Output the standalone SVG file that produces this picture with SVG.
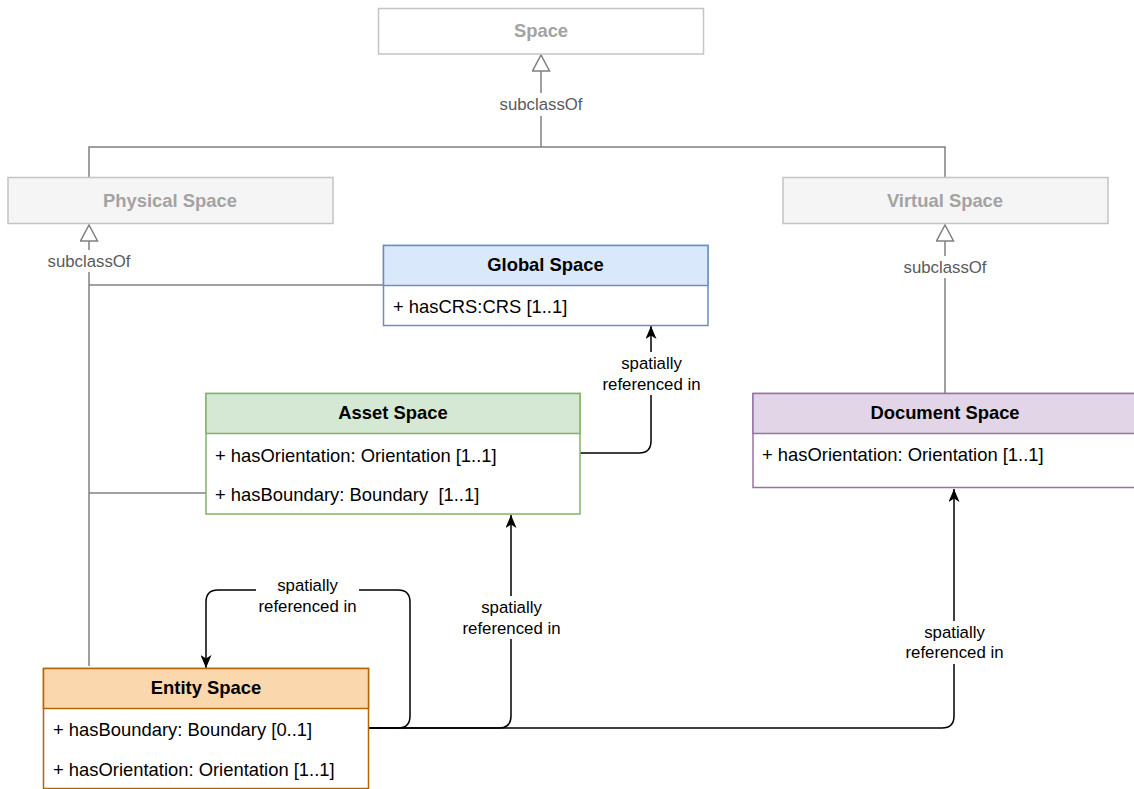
<svg xmlns="http://www.w3.org/2000/svg" width="1134" height="789" viewBox="0 0 1134 789">
<style>
text{font-family:"Liberation Sans",Arial,sans-serif}
.t{font-size:18.4px;font-weight:bold;text-anchor:middle;fill:#000}
.ta{font-size:18.4px;font-weight:bold;text-anchor:middle;fill:#a3a3a3}
.r{font-size:18.4px;fill:#000}
.l{font-size:16.8px;text-anchor:middle;fill:#000}
.lg{font-size:16.8px;text-anchor:middle;fill:#5a5a5a}
.g{fill:none;stroke:#808080;stroke-width:1.5}
.k{fill:none;stroke:#000;stroke-width:1.5}
.bg{fill:#fff}
</style>
<defs>
<marker id="tri" markerUnits="userSpaceOnUse" viewBox="0 0 18 19" refX="17" refY="9.5" markerWidth="18" markerHeight="19" orient="auto">
<path d="M1,1 L17,9.5 L1,18 z" fill="#fff" stroke="#808080" stroke-width="1.5"/>
</marker>
<marker id="arr" markerUnits="userSpaceOnUse" viewBox="0 0 13 11" refX="13" refY="5.5" markerWidth="13" markerHeight="11" orient="auto">
<path d="M0,0 L13,5.5 L0,11 L3.5,5.5 z" fill="#000"/>
</marker>
</defs>

<g id="connectors">
<path class="g" d="M89,178 V147 H945 V178"/>
<path class="g" d="M541,147 V55" marker-end="url(#tri)"/>
<path class="g" d="M89,666 V225" marker-end="url(#tri)"/>
<path class="g" d="M384,285 H89"/>
<path class="g" d="M206,493 H89"/>
<path class="g" d="M945,393 V225" marker-end="url(#tri)"/>
<path class="k" d="M580,453 H639 Q651,453 651,441 V326" marker-end="url(#arr)"/>
<path class="k" d="M368,728 H398 Q410,728 410,716 V602 Q410,590 398,590 H218 Q206,590 206,602 V668" marker-end="url(#arr)"/>
<path class="k" d="M368,728 H499 Q511,728 511,716 V515" marker-end="url(#arr)"/>
<path class="k" d="M368,728 H942 Q954,728 954,716 V489" marker-end="url(#arr)"/>
<rect class="bg" x="497" y="93" width="88" height="23"/>
<text class="lg" x="541" y="109.5">subclassOf</text>
<rect class="bg" x="45" y="250" width="88" height="22"/>
<text class="lg" x="89" y="266.5">subclassOf</text>
<rect class="bg" x="901" y="256" width="88" height="22"/>
<text class="lg" x="945" y="272.5">subclassOf</text>
<rect class="bg" x="601" y="352" width="102" height="43"/>
<text class="l" x="651.5" y="368.5">spatially</text>
<text class="l" x="651.5" y="389.5">referenced in</text>
<rect class="bg" x="256" y="574" width="103" height="43"/>
<text class="l" x="307.5" y="590.5">spatially</text>
<text class="l" x="307.5" y="611.5">referenced in</text>
<rect class="bg" x="460" y="596" width="102" height="43"/>
<text class="l" x="511.5" y="612.5">spatially</text>
<text class="l" x="511.5" y="633.5">referenced in</text>
<rect class="bg" x="903" y="621" width="102" height="43"/>
<text class="l" x="954.5" y="637.5">spatially</text>
<text class="l" x="954.5" y="657.5">referenced in</text>
</g>

<g id="space">
<rect x="378.5" y="8.5" width="325" height="45.5" fill="#fff" stroke="#c4c4c4" stroke-width="1.5"/>
<text class="ta" x="541" y="37">Space</text>
</g>
<g id="physical-space">
<rect x="8" y="177.5" width="325" height="46" fill="#f5f5f5" stroke="#c4c4c4" stroke-width="1.5"/>
<text class="ta" x="170" y="207">Physical Space</text>
</g>
<g id="virtual-space">
<rect x="783" y="177.5" width="325" height="46" fill="#f5f5f5" stroke="#c4c4c4" stroke-width="1.5"/>
<text class="ta" x="945" y="207">Virtual Space</text>
</g>
<g id="global-space">
<rect x="383.5" y="245.5" width="324.5" height="80" fill="#fff" stroke="#6c8ebf" stroke-width="1.5"/>
<rect x="383.5" y="245.5" width="324.5" height="40" fill="#dae8fc" stroke="#6c8ebf" stroke-width="1.5"/>
<text class="t" x="545.5" y="270.5">Global Space</text>
<text class="r" x="393" y="313">+ hasCRS:CRS [1..1]</text>
</g>
<g id="asset-space">
<rect x="206" y="393.5" width="374" height="120.5" fill="#fff" stroke="#82b366" stroke-width="1.5"/>
<rect x="206" y="393.5" width="374" height="40" fill="#d5e8d4" stroke="#82b366" stroke-width="1.5"/>
<text class="t" x="393" y="419">Asset Space</text>
<text class="r" x="215" y="461.5">+ hasOrientation: Orientation [1..1]</text>
<text class="r" x="215" y="500.5" xml:space="preserve">+ hasBoundary: Boundary  [1..1]</text>
</g>
<g id="document-space">
<rect x="753" y="393.5" width="384" height="94" fill="#fff" stroke="#9673a6" stroke-width="1.5"/>
<rect x="753" y="393.5" width="384" height="40" fill="#e1d5e7" stroke="#9673a6" stroke-width="1.5"/>
<text class="t" x="945" y="419">Document Space</text>
<text class="r" x="762" y="461">+ hasOrientation: Orientation [1..1]</text>
</g>
<g id="entity-space">
<rect x="43.5" y="668.5" width="325" height="120" fill="#fff" stroke="#b46504" stroke-width="1.5"/>
<rect x="43.5" y="668.5" width="325" height="40" fill="#fad7ac" stroke="#b46504" stroke-width="1.5"/>
<text class="t" x="206" y="694">Entity Space</text>
<text class="r" x="53" y="736">+ hasBoundary: Boundary [0..1]</text>
<text class="r" x="53" y="776">+ hasOrientation: Orientation [1..1]</text>
</g>
</svg>
